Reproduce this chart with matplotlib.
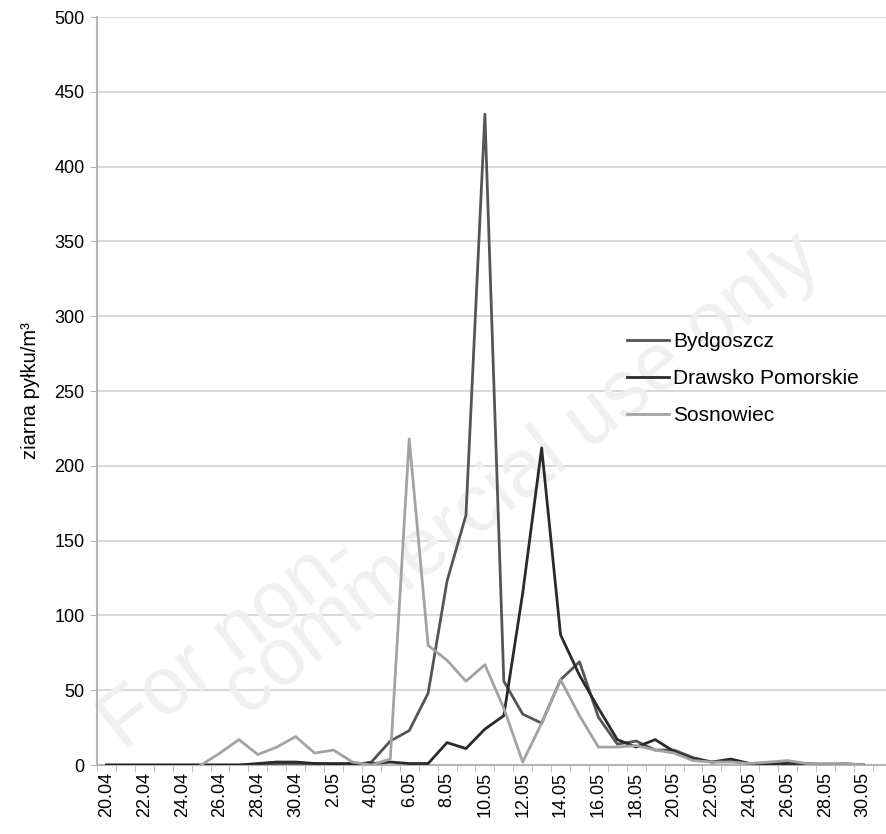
import matplotlib
matplotlib.use('Agg')
import matplotlib.pyplot as plt
import numpy as np

plt.rcParams['font.family'] = ['Liberation Sans', 'DejaVu Sans']

# daty: 20.04 - 30.05
dates = ['20.04', '21.04', '22.04', '23.04', '24.04', '25.04', '26.04', '27.04', '28.04', '29.04',
         '30.04', '1.05', '2.05', '3.05', '4.05', '5.05', '6.05', '7.05', '8.05', '9.05',
         '10.05', '11.05', '12.05', '13.05', '14.05', '15.05', '16.05', '17.05', '18.05', '19.05',
         '20.05', '21.05', '22.05', '23.05', '24.05', '25.05', '26.05', '27.05', '28.05', '29.05',
         '30.05']

bydgoszcz = [0, 0, 0, 0, 0, 0, 0, 0, 0, 1,
             1, 1, 0, 0, 2, 16, 23, 48, 123, 167,
             435, 56, 34, 28, 57, 69, 32, 14, 16, 10,
             10, 5, 2, 3, 1, 1, 2, 1, 0, 1,
             0]
drawsko = [0, 0, 0, 0, 0, 0, 0, 0, 1, 2,
           2, 1, 1, 1, 1, 2, 1, 1, 15, 11,
           24, 33, 115, 212, 87, 60, 38, 17, 12, 17,
           9, 4, 2, 4, 1, 0, 1, 1, 0, 0,
           0]
sosnowiec = [np.nan, np.nan, np.nan, np.nan, np.nan, 0, 8, 17, 7, 12,
             19, 8, 10, 2, 0, 4, 218, 80, 70, 56,
             67, 38, 2, 28, 57, 33, 12, 12, 13, 10,
             8, 3, 2, 2, 1, 2, 3, 1, 1, 1,
             0]

series = [('Bydgoszcz', bydgoszcz, '#555555'),
          ('Drawsko Pomorskie', drawsko, '#2a2a2a'),
          ('Sosnowiec', sosnowiec, '#a3a3a3')]

fig = plt.figure(figsize=(8.86, 8.34), dpi=100)
ax = fig.add_axes([0.1095, 0.0827, 0.8905, 0.8969])

# znak wodny (pod wykresem)
ax.text(0.26, 0.23, 'For non-', fontsize=58, color='#f0f0f0', rotation=38,
        ha='center', va='center', transform=fig.transFigure, zorder=1)
ax.text(0.59, 0.43, 'commercial use only', fontsize=58, color='#f0f0f0', rotation=38,
        ha='center', va='center', transform=fig.transFigure, zorder=1)

x = np.arange(len(dates))
for name, vals, col in series:
    ax.plot(x, vals, color=col, lw=2.0, label=name, zorder=3)

# osie
ax.set_xlim(-0.5, 41.2)
ax.set_ylim(0, 500)
ax.set_yticks(np.arange(0, 501, 50))
ax.tick_params(axis='y', labelsize=13, length=5, color='#b5b5b5', pad=4)
ax.yaxis.grid(True, color='#d9d9d9', lw=1.5, zorder=0)
ax.set_axisbelow(True)

ax.set_xticks(x[::2])
ax.set_xticklabels(dates[::2], rotation=90, fontsize=13)
ax.tick_params(axis='x', length=0, pad=5)
ax.set_xticks(np.arange(-0.5, len(dates)), minor=True)
ax.tick_params(axis='x', which='minor', length=5, color='#b5b5b5')

for s in ['top', 'right']:
    ax.spines[s].set_visible(False)
ax.spines['left'].set_color('#b5b5b5')
ax.spines['bottom'].set_color('#b5b5b5')
ax.spines['left'].set_linewidth(1.5)
ax.spines['bottom'].set_linewidth(1.5)

ax.set_ylabel('ziarna pyłku/m³', fontsize=14.5, labelpad=10)

leg = ax.legend(loc='upper left', bbox_to_anchor=(0.648, 0.604), frameon=False,
                fontsize=15, handlelength=2.0, handletextpad=0.2, labelspacing=0.86)
leg.set_zorder(5)

fig.savefig('out.png', dpi=100)
